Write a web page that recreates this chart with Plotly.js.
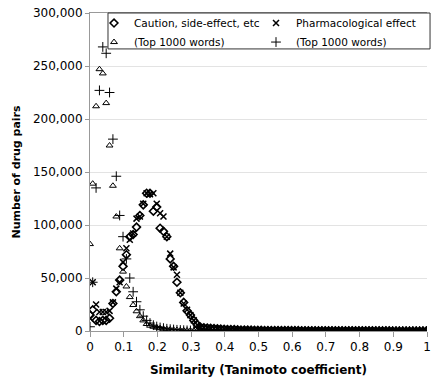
<!DOCTYPE html>
<html>
<head>
<meta charset="utf-8">
<script src="https://cdn.plot.ly/plotly-3.0.1.min.js"></script>
<style>html,body{margin:0;padding:0;background:#fff;}#chart{width:431px;height:380px;}</style>
</head>
<body>
<div id="chart"></div>
<script>
// Similarity grid (Tanimoto coefficient)
const similarity = [0,0.008,0.018,0.028,0.038,0.048,0.058,0.068,0.078,0.088,
0.098,0.108,0.118,0.128,0.138,0.148,0.158,0.168,0.178,0.188,
0.198,0.208,0.218,0.228,0.238,0.248,0.258,0.268,0.278,0.288,
0.298,0.308,0.318,0.328,0.338,0.348,0.358,0.368,0.378,0.388,
0.398,0.408,0.418,0.428,0.438,0.448,0.458,0.468,0.478,0.488,
0.498,0.508,0.518,0.528,0.538,0.548,0.558,0.568,0.578,0.588,
0.598,0.608,0.618,0.628,0.638,0.648,0.658,0.668,0.678,0.688,
0.698,0.708,0.718,0.728,0.738,0.748,0.758,0.768,0.778,0.788,
0.798,0.808,0.818,0.828,0.838,0.848,0.858,0.868,0.878,0.888,
0.898,0.908,0.918,0.928,0.938,0.948,0.958,0.968,0.978,0.988,
0.998];

// Caution, side-effect, etc (diamonds)
const caution = [15000,20000,10000,9000,10000,10000,12000,26000,37000,48000,
61000,72000,89000,91000,98000,109000,119000,130000,130000,113000,
117000,97000,94000,89000,68000,61000,46000,36000,27000,19000,
15000,10000,6000,3500,3000,2800,2500,2300,2100,1900,
1700,1500,1400,1300,1150,1000,950,850,800,700,
650,600,560,520,500,470,450,420,400,380,
370,350,330,310,300,290,270,260,250,240,
230,220,210,200,190,185,175,170,160,150,
145,140,130,125,120,110,105,100,95,90,
85,80,75,70,65,60,55,50,45,40,
35];

// Pharmacological effect (x)
const pharma = [12000,46000,25000,18000,18000,18000,19000,27000,40000,46000,
65000,78000,86000,92000,106000,108000,120000,130000,129000,130000,
120000,111000,108000,89000,73000,60000,53000,36000,26000,20000,
15000,10000,5700,3800,3200,2900,2600,2400,2200,1950,
1750,1600,1450,1300,1200,1050,980,900,820,760,
700,640,600,560,520,490,460,430,410,390,
370,360,340,320,300,280,270,260,250,240,
230,220,210,200,195,185,180,170,165,155,
150,140,135,130,120,115,110,100,95,90,
85,80,75,70,65,60,55,50,45,40,
30];

// Caution (Top 1000 words) (triangles)
const cautionTop = [82000,139000,212000,247000,243000,215000,175000,137000,108000,78000,
56000,42000,32000,24500,18600,14000,10000,6600,5000,4000,
3200,2600,2100,1700,1400,1100,900,700,600,500,
400,350,300,260,230,200,180,160,140,120,
110,100,90,80,70,65,60,55,50,45,
40,38,35,32,30,28,25,22,20,18,
16,15,14,13,12,11,10,9,8,7,
6,6,5,5,4,4,3,3,2,2,
2,1,1,1,1,1,1,0,0,0,
0,0,0,0,0,0,0,0,0,0,
0];

// Pharmacological (Top 1000 words) (plus)
const pharmaTop = [4000,46000,135000,227000,268000,262000,225000,181000,146000,109000,
89000,68000,50000,37000,27600,20000,14000,10000,7500,5500,
4200,3300,2700,2100,1700,1400,1100,900,750,600,
500,430,370,320,280,240,210,185,160,140,
125,110,100,90,80,72,65,58,52,47,
42,38,34,31,28,25,22,20,18,16,
14,13,12,11,10,9,8,7,6,5,
5,4,4,3,3,3,2,2,2,1,
1,1,1,1,1,1,0,0,0,0,
0,0,0,0,0,0,0,0,0,0,
0];

const seriesNames = ['Caution, side-effect, etc', 'Pharmacological effect', '(Top 1000 words)', '(Top 1000 words)'];
const xTicks = [0,0.1,0.2,0.3,0.4,0.5,0.6,0.7,0.8,0.9,1];
const xTickText = ['0','0.1','0.2','0.3','0.4','0.5','0.6','0.7','0.8','0.9','1'];

const FONT = 'DejaVu Sans, Verdana, sans-serif';
function tr(y, name, symbol, size, lw, lg) {
  return {
    x: similarity, y: y, name: name, type: 'scatter', mode: 'markers', legend: lg,
    marker: {symbol: symbol, size: size, color: '#000', line: {color: '#000', width: lw}},
    cliponaxis: true
  };
}
const data = [
  tr(caution, seriesNames[0], 'diamond-open', 6, 1.6, 'legend'),
  tr(cautionTop, seriesNames[2], 'triangle-up-open', 6, 1, 'legend'),
  tr(pharma, seriesNames[1], 'x-thin', 6, 1.5, 'legend2'),
  tr(pharmaTop, seriesNames[3], 'cross-thin', 7, 1, 'legend2')
];

const legendFont = {family: FONT, size: 10.5, color: '#000'};
const layout = {
  width: 431, height: 380,
  margin: {l: 90, r: 4, t: 13, b: 49},
  paper_bgcolor: '#fff', plot_bgcolor: '#fff',
  font: {family: FONT, size: 12, color: '#000'},
  showlegend: true,
  legend: {
    orientation: 'v', x: 0.0119, xanchor: 'left', y: 1.014, yanchor: 'top',
    bgcolor: 'rgba(255,255,255,0)', borderwidth: 0,
    font: legendFont, traceorder: 'normal', itemsizing: 'trace'
  },
  legend2: {
    orientation: 'v', x: 0.4926, xanchor: 'left', y: 1.014, yanchor: 'top',
    bgcolor: 'rgba(255,255,255,0)', borderwidth: 0,
    font: legendFont, traceorder: 'normal', itemsizing: 'trace'
  },
  shapes: [{
    type: 'rect', xref: 'paper', yref: 'paper',
    x0: 0.0534, x1: 1.009, y0: 0.887, y1: 1,
    line: {color: '#333', width: 1}, fillcolor: 'rgba(0,0,0,0)', layer: 'above'
  }],
  xaxis: {
    range: [0, 1], tickvals: xTicks, ticktext: xTickText,
    showgrid: false, zeroline: false,
    showline: true, linecolor: '#999', linewidth: 1, mirror: true,
    ticks: 'outside', ticklen: 5, tickcolor: '#999',
    tickfont: {family: FONT, size: 12, color: '#000'},
    title: {text: 'Similarity (Tanimoto coefficient)', font: {family: FONT, size: 12, color: '#000', weight: 'bold'}, standoff: 12}
  },
  yaxis: {
    range: [0, 300000], dtick: 50000, tickformat: ',',
    showgrid: true, gridcolor: '#e3e3e3', gridwidth: 1, zeroline: false,
    showline: true, linecolor: '#999', linewidth: 1,
    ticks: 'outside', ticklen: 4, tickcolor: '#999',
    tickfont: {family: FONT, size: 12, color: '#000'},
    title: {text: 'Number of drug pairs', font: {family: FONT, size: 11, color: '#000', weight: 'bold'}, standoff: 10}
  }
};

Plotly.newPlot('chart', data, layout, {displayModeBar: false, staticPlot: true});
</script>
</body>
</html>
